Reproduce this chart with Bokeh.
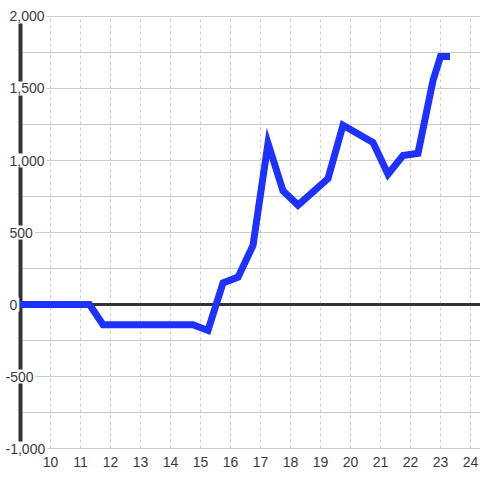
from bokeh.plotting import figure
from bokeh.models import Range1d, Label
from bokeh.embed import file_html
from bokeh.resources import INLINE
from bokeh.core.properties import value

# ---- data ----
x_vals = [9.0, 11.3, 11.75, 14.75, 15.25, 15.75, 16.25, 16.75, 17.25, 17.75,
          18.25, 19.25, 19.75, 20.75, 21.25, 21.75, 22.25, 22.75, 23.0, 23.2]
y_vals = [0, 0, -140, -140, -180, 150, 190, 410, 1120, 790,
          690, 875, 1245, 1125, 905, 1035, 1050, 1555, 1722, 1722]
x_ticks = list(range(10, 25))
x_tick_labels = [str(t) for t in x_ticks]
y_major = [-1000, -500, 0, 500, 1000, 1500, 2000]
y_major_labels = ["-1,000", "-500", "0", "500", "1,000", "1,500", "2,000"]
y_grid = list(range(-1000, 2001, 250))

FONT = "Liberation Sans"
TEXT_COLOR = "#3a3a3a"
x_start, x_end = 8.3333, 24.3333
y_start, y_end = -1222.2, 2111.1

p = figure(width=480, height=480, min_border=0,
           output_backend="svg", toolbar_location=None,
           x_range=Range1d(x_start, x_end), y_range=Range1d(y_start, y_end),
           x_axis_location=None, y_axis_location=None)
p.grid.visible = False
p.outline_line_color = None
p.background_fill_color = "white"
p.border_fill_color = "white"

axis_x = min(x_vals)

# grid lines
p.segment(x0=axis_x, x1=x_end, y0=y_grid, y1=y_grid,
          line_color="#cccccc", line_width=1)
p.segment(x0=x_ticks, x1=x_ticks, y0=min(y_grid), y1=max(y_grid),
          line_color="#cccccc", line_width=1, line_dash="3 3")

# y axis line and zero line
p.segment(x0=axis_x, x1=axis_x, y0=min(y_grid), y1=max(y_grid),
          line_color="#333333", line_width=4)
p.segment(x0=axis_x, x1=x_end, y0=0, y1=0, line_color="#333333", line_width=3)

# data line
p.line(x_vals, y_vals, line_width=7, line_color="#1e32ff",
       line_join="miter", line_cap="square")

# y labels with white background (cover axis line and grid start)
for yv, lab in zip(y_major, y_major_labels):
    off = -17 if lab.startswith("-") else -13
    p.add_layout(Label(x=axis_x, y=yv, text=lab, x_offset=off,
                       text_align="left", text_baseline="middle",
                       text_font=FONT, text_font_size="14px",
                       text_color=TEXT_COLOR,
                       background_fill_color="white", padding=2))

# x tick labels
p.text(x=x_ticks, y=min(y_grid), text=x_tick_labels, y_offset=13,
       text_align="center", text_baseline="middle",
       text_font=value(FONT), text_font_size="14px", text_color=TEXT_COLOR)

open("out.html", "w").write(file_html(p, INLINE))
